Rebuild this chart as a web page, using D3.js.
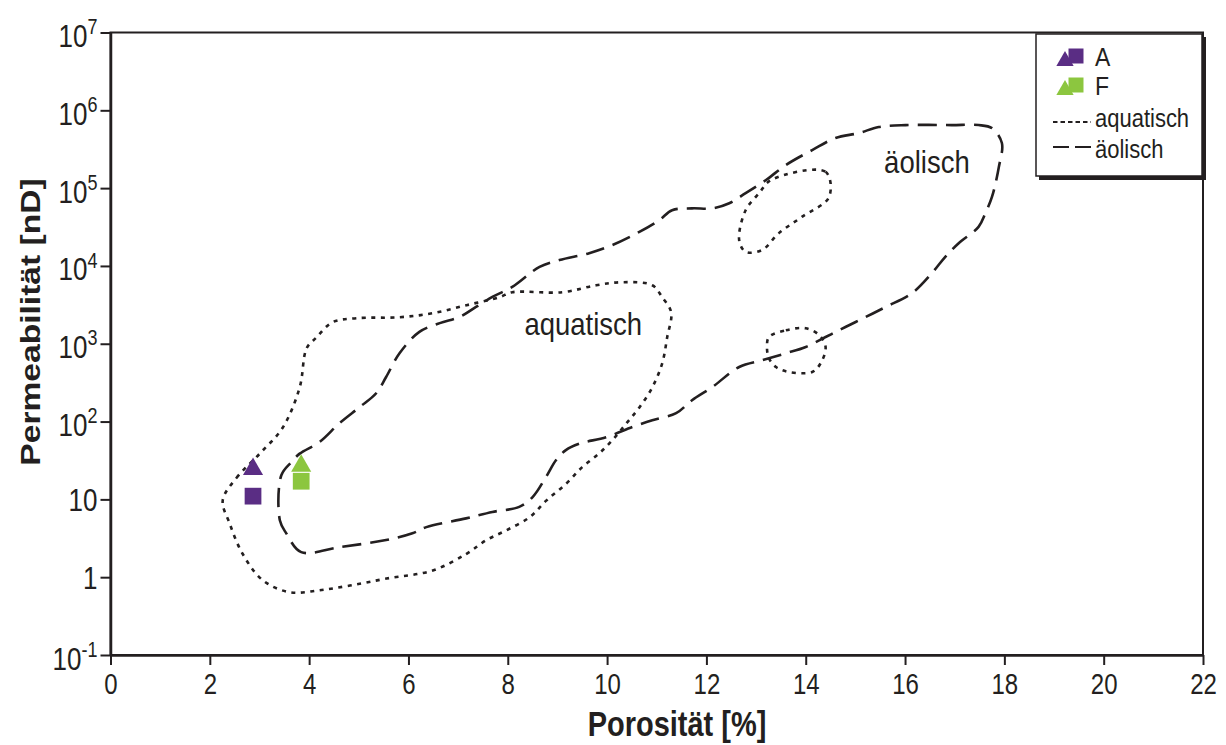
<!DOCTYPE html>
<html>
<head>
<meta charset="utf-8">
<script src="https://cdn.jsdelivr.net/npm/d3@7"></script>
<style>
  body { margin: 0; background: #fff; }
  text { font-family: "Liberation Sans", Arial, sans-serif; fill: #231f20; }
</style>
</head>
<body>
<div id="chart"></div>
<script>
// tick values
var xTicks = [0, 2, 4, 6, 8, 10, 12, 14, 16, 18, 20, 22];
var yExponents = [-1, 0, 1, 2, 3, 4, 5, 6, 7];

// samples (porosity %, permeability nD)
var sampleNames = ["A", "F"];
var samplePorosity = [2.87, 3.84];
var triangleK = [24.4, 26.9];
var squareK = [11, 17.1];

// aquatisch envelope (dotted)
var aquaticPoro = [2.26, 2.54, 3.01, 3.47, 3.81, 3.95, 4.15, 4.47, 4.96, 5.82, 6.49, 7.17, 7.83, 8.09, 9.10, 9.78, 10.31, 10.91, 11.11, 11.29, 11.21, 11.11, 10.91, 10.65, 10.39, 10.10, 9.84, 9.50, 9.18, 8.78, 8.44, 7.97, 7.57, 7.17, 6.49, 5.56, 4.82, 4.21, 3.61, 3.07, 2.66, 2.40];
var aquaticPerm = [9.7, 19, 39, 84, 275, 875, 1210, 1890, 2130, 2190, 2470, 3130, 3960, 4590, 4590, 5650, 6180, 5650, 3960, 2540, 1210, 561, 275, 152, 95, 57, 39, 26, 16, 9.7, 5.9, 4.0, 3.0, 2.0, 1.22, 0.96, 0.78, 0.68, 0.64, 0.91, 2.0, 4.9];

var aquaticIsle1Poro = [13.30, 14.40, 14.47, 13.93, 13.46, 13.12, 12.79, 12.66, 12.79, 13.06];
var aquaticIsle1Perm = [1.27e5, 1.62e5, 7.7e4, 4.3e4, 2.64e4, 1.6e4, 1.52e4, 2.14e4, 5.2e4, 8.6e4];

var aquaticIsle2Poro = [13.26, 13.60, 14.00, 14.27, 14.40, 14.30, 14.13, 13.66, 13.40, 13.26, 13.22];
var aquaticIsle2Perm = [1220, 1490, 1580, 1290, 910, 561, 434, 434, 503, 650, 910];

// äolisch envelope (dashed)
var aeolianPoro = [3.84, 3.54, 3.41, 3.44, 3.64, 3.81, 4.21, 4.61, 5.02, 5.35, 5.55, 5.82, 6.22, 6.63, 7.03, 7.36, 7.69, 8.09, 8.64, 9.04, 9.64, 10.10, 10.65, 11.05, 11.31, 11.71, 12.12, 12.46, 12.79, 13.20, 13.60, 14.13, 14.60, 15.07, 15.47, 16.01, 16.94, 17.48, 17.75, 17.95, 17.89, 17.75, 17.62, 17.48, 17.08, 16.81, 16.54, 16.14, 15.61, 15.21, 14.80, 14.40, 14.00, 13.60, 13.12, 12.66, 12.12, 11.71, 11.39, 10.91, 10.51, 9.98, 9.44, 9.17, 8.97, 8.77, 8.50, 8.23, 7.69, 7.16, 6.36, 6.08, 5.55, 4.61];
var aeolianPerm = [2.1, 3.66, 5.4, 20.4, 30, 38.7, 54.6, 95, 154, 231, 374, 755, 1420, 1840, 2210, 2970, 4000, 5380, 9730, 1.19e4, 1.46e4, 1.85e4, 2.74e4, 3.88e4, 5.2e4, 5.5e4, 5.5e4, 6.4e4, 8.6e4, 1.27e5, 1.98e5, 3.08e5, 4.4e5, 5.1e5, 6.1e5, 6.46e5, 6.46e5, 6.46e5, 5.9e5, 3.8e5, 1.88e5, 7.7e4, 4.8e4, 3.18e4, 1.96e4, 1.31e4, 8070, 4470, 2970, 2210, 1640, 1220, 910, 755, 614, 503, 278, 188, 128, 104, 85, 63, 52, 43, 31.8, 19.4, 10.7, 8.0, 6.9, 5.7, 4.4, 3.66, 3.0, 2.43];

// region labels
var regionNames = ["aquatisch", "äolisch"];
var regionPoro = [9.52, 16.44];
var regionPerm = [1300, 1.56e5];

var colors = ["#5a2d84", "#8cc63f"];

var width = 1226, height = 745;
var margin = {top: 32.5, right: 23, bottom: 90, left: 110.5};
var w = width - margin.left - margin.right,
    h = height - margin.top - margin.bottom;

// the original figure is a bit taller than wide, so text is stretched vertically
function stretch(sel, k) {
    sel.each(function() {
        var t = d3.select(this);
        var tx = +t.attr("x") || 0, ty = +t.attr("y") || 0;
        t.attr("x", 0).attr("y", 0)
            .attr("transform", "translate(" + tx + "," + ty + ") scale(1," + k + ")");
    });
}

var svg = d3.select("#chart").append("svg")
    .attr("width", width)
    .attr("height", height);

var g = svg.append("g")
    .attr("transform", "translate(" + margin.left + "," + margin.top + ")");

var x = d3.scaleLinear().domain([0, 22]).range([0, w]);
var y = d3.scaleLog().domain([0.1, 1e7]).range([h, 0]);

// frame
g.append("rect")
    .attr("width", w).attr("height", h)
    .attr("fill", "none").attr("stroke", "#231f20").attr("stroke-width", 2);

// axes
var xAxis = g.append("g")
    .attr("transform", "translate(0," + h + ")")
    .call(d3.axisBottom(x).tickValues(xTicks).tickSize(10).tickSizeOuter(0).tickPadding(8));
var yAxis = g.append("g")
    .call(d3.axisLeft(y).tickValues(yExponents.map(function(e) { return Math.pow(10, e); }))
        .tickSize(10).tickSizeOuter(0).tickPadding(3).tickFormat(""));

[xAxis, yAxis].forEach(function(a) {
    a.select(".domain").attr("stroke", "#231f20").attr("stroke-width", 2.5);
    a.selectAll(".tick line").attr("stroke", "#231f20").attr("stroke-width", 2);
});
xAxis.selectAll(".tick text")
    .style("font-size", "24px").attr("fill", "#231f20")
    .call(stretch, 1.25);

yAxis.selectAll(".tick text").each(function(d, i) {
    var e = yExponents[i];
    var t = d3.select(this).style("font-size", "26px").attr("dy", "0.35em");
    if (e === 0) { t.text("1"); return; }
    if (e === 1) { t.text("10"); return; }
    t.attr("dy", "0.45em");
    t.append("tspan").text("10");
    t.append("tspan").attr("dy", "-0.6em").style("font-size", "18px").text(e);
});
yAxis.selectAll(".tick text").call(stretch, 1.2);

// axis titles
svg.append("text")
    .attr("transform", "translate(677,736) scale(1,1.22)")
    .attr("text-anchor", "middle")
    .style("font-size", "29px").style("font-weight", "bold")
    .text("Porosität [%]");
svg.append("text")
    .attr("transform", "translate(40,322) scale(1,1.2) rotate(-90)")
    .attr("text-anchor", "middle")
    .style("font-size", "28px").style("font-weight", "bold")
    .text("Permeabilität [nD]");

// envelopes
var line = d3.line()
    .x(function(d) { return x(d[0]); })
    .y(function(d) { return y(d[1]); })
    .curve(d3.curveCatmullRomClosed.alpha(0.5));

function envelope(poro, perm, dash) {
    g.append("path")
        .datum(d3.zip(poro, perm))
        .attr("d", line)
        .attr("fill", "none")
        .attr("stroke", "#231f20")
        .attr("stroke-width", 2.6)
        .attr("stroke-dasharray", dash);
}
envelope(aquaticPoro, aquaticPerm, "4,5.5");
envelope(aquaticIsle1Poro, aquaticIsle1Perm, "4,5.5");
envelope(aquaticIsle2Poro, aquaticIsle2Perm, "4,5.5");
envelope(aeolianPoro, aeolianPerm, "19,9");

g.selectAll(".region")
    .data(regionNames)
    .enter().append("text")
    .attr("x", function(d, i) { return x(regionPoro[i]); })
    .attr("y", function(d, i) { return y(regionPerm[i]); })
    .attr("text-anchor", "middle")
    .style("font-size", "27.5px").attr("fill", "#333")
    .text(function(d) { return d; })
    .call(stretch, 1.12);

// sample markers
var tri = d3.symbol().type(d3.symbolTriangle).size(175);
var sq = d3.symbol().type(d3.symbolSquare).size(280);

sampleNames.forEach(function(name, i) {
    g.append("path")
        .attr("d", sq())
        .attr("transform", "translate(" + x(samplePorosity[i]) + "," + y(squareK[i]) + ")")
        .attr("fill", colors[i]);
    g.append("path")
        .attr("d", tri())
        .attr("transform", "translate(" + x(samplePorosity[i]) + "," + y(triangleK[i]) + ")")
        .attr("fill", colors[i]);
});

// legend
var legend = svg.append("g").attr("transform", "translate(1036,34)");
legend.append("rect")
    .attr("x", 3).attr("y", 3).attr("width", 167).attr("height", 143)
    .attr("fill", "#231f20");
legend.append("rect")
    .attr("width", 166).attr("height", 142)
    .attr("fill", "#fff").attr("stroke", "#231f20").attr("stroke-width", 1.5);

var legTri = d3.symbol().type(d3.symbolTriangle).size(130);
var legSq = d3.symbol().type(d3.symbolSquare).size(225);
sampleNames.forEach(function(name, i) {
    var cy = 23 + i * 29;
    legend.append("path").attr("d", legSq())
        .attr("transform", "translate(40," + (cy - 1) + ")").attr("fill", colors[i]);
    legend.append("path").attr("d", legTri())
        .attr("transform", "translate(29," + (cy + 4) + ")").attr("fill", colors[i]);
    legend.append("text").attr("x", 59).attr("y", cy + 9)
        .style("font-size", "23px").text(name);
});
legend.append("line")
    .attr("x1", 17).attr("x2", 55).attr("y1", 88).attr("y2", 88)
    .attr("stroke", "#231f20").attr("stroke-width", 2.2).attr("stroke-dasharray", "4.5,3");
legend.append("text").attr("x", 59).attr("y", 93).style("font-size", "22px").text("aquatisch");
legend.append("line")
    .attr("x1", 17).attr("x2", 56).attr("y1", 113).attr("y2", 113)
    .attr("stroke", "#231f20").attr("stroke-width", 2.2).attr("stroke-dasharray", "16,6");
legend.append("text").attr("x", 59).attr("y", 124).style("font-size", "22px").text("äolisch");
legend.selectAll("text").call(stretch, 1.15);
</script>
</body>
</html>
